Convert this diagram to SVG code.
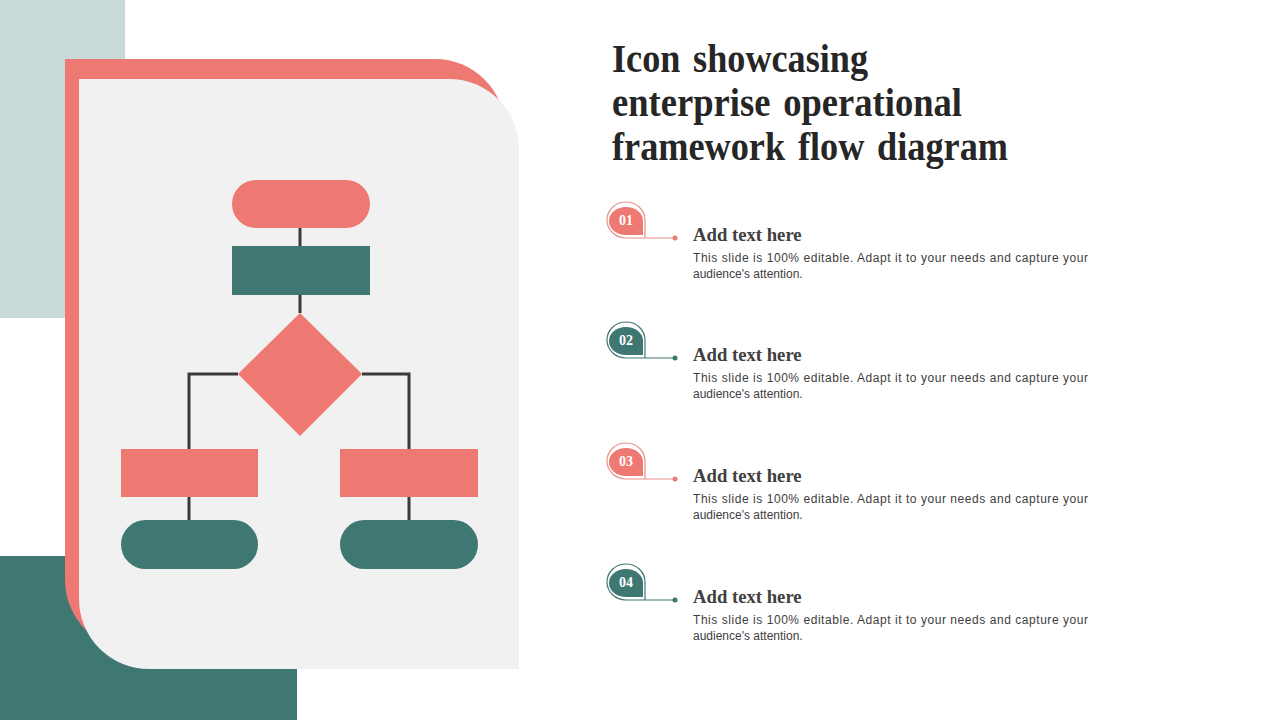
<svg xmlns="http://www.w3.org/2000/svg" width="1280" height="720" viewBox="0 0 1280 720">
<style>
.coral{fill:#EE7872}
.teal{fill:#3F7872}
.conn{fill:none;stroke:#3A3A3A;stroke-width:3}
.title{font-family:"Liberation Serif",serif;font-weight:bold;font-size:39px;fill:#262626;word-spacing:4px}
.head{font-family:"Liberation Serif",serif;font-weight:bold;font-size:18.7px;fill:#404040}
.body{font-family:"Liberation Sans",Arial,sans-serif;font-size:12px;fill:#404040}
.num{font-family:"Liberation Serif",serif;font-weight:bold;font-size:14px;fill:#fff;text-anchor:middle}
.ringC{fill:none;stroke:#E8908A;stroke-width:1.2}
.ringT{fill:none;stroke:#3F7872;stroke-width:1.2}
</style>
<rect width="1280" height="720" fill="#fff"/>
<g id="background">
<rect x="0" y="0" width="125" height="318" fill="#C9D9D9"/>
<rect x="0" y="556" width="297" height="164" class="teal"/>
<path d="M65,59 H435 A70,70 0 0 1 505,129 V650 H135 A70,70 0 0 1 65,580 Z" class="coral"/>
<path d="M79,79 H449 A70,70 0 0 1 519,149 V669 H149 A70,70 0 0 1 79,599 Z" fill="#F1F1F1"/>
</g>
<g id="connectors">
<line x1="300" y1="228" x2="300" y2="246" class="conn"/>
<line x1="300" y1="295" x2="300" y2="313" class="conn"/>
<polyline points="238,374 189,374 189,449" class="conn"/>
<polyline points="362,374 409,374 409,449" class="conn"/>
<line x1="189" y1="497" x2="189" y2="520" class="conn"/>
<line x1="409" y1="497" x2="409" y2="520" class="conn"/>
</g>
<g id="start"><rect x="232" y="180" width="138" height="48" rx="24" class="coral"/></g>
<g id="process"><rect x="232" y="246" width="138" height="49" class="teal"/></g>
<g id="decision"><polygon points="300,313 362,374 300,436 238,374" class="coral"/></g>
<g id="left-step"><rect x="121" y="449" width="137" height="48" class="coral"/></g>
<g id="right-step"><rect x="340" y="449" width="138" height="48" class="coral"/></g>
<g id="left-end"><rect x="121" y="520" width="137" height="49" rx="24.5" class="teal"/></g>
<g id="right-end"><rect x="340" y="520" width="138" height="49" rx="24.5" class="teal"/></g>
<g id="title">
<text class="title" x="612" y="72" textLength="256" lengthAdjust="spacingAndGlyphs">Icon showcasing</text>
<text class="title" x="612" y="116" textLength="350" lengthAdjust="spacingAndGlyphs">enterprise operational</text>
<text class="title" x="612" y="160" textLength="396" lengthAdjust="spacingAndGlyphs">framework flow diagram</text>
</g>
<g id="item1">
<path d="M675,238 H626 A19,18 0 0 1 607,220 A19,18 0 0 1 626,202 A19,18 0 0 1 645,220 V238" class="ringC"/>
<circle cx="675" cy="238" r="2.5" class="coral"/>
<path d="M643,235 H626 A17,14 0 0 1 609,221 A17,14 0 0 1 626,207 A17,14 0 0 1 643,221 Z" class="coral"/>
<text class="num" x="626" y="225">01</text>
<text class="head" x="693" y="241">Add text here</text>
<text class="body" x="693" y="262" textLength="395" lengthAdjust="spacing">This slide is 100% editable. Adapt it to your needs and capture your</text>
<text class="body" x="693" y="278">audience's attention.</text>
</g>
<g id="item2" transform="translate(0,120)">
<path d="M675,238 H626 A19,18 0 0 1 607,220 A19,18 0 0 1 626,202 A19,18 0 0 1 645,220 V238" class="ringT"/>
<circle cx="675" cy="238" r="2.5" class="teal"/>
<path d="M643,235 H626 A17,14 0 0 1 609,221 A17,14 0 0 1 626,207 A17,14 0 0 1 643,221 Z" class="teal"/>
<text class="num" x="626" y="225">02</text>
<text class="head" x="693" y="241">Add text here</text>
<text class="body" x="693" y="262" textLength="395" lengthAdjust="spacing">This slide is 100% editable. Adapt it to your needs and capture your</text>
<text class="body" x="693" y="278">audience's attention.</text>
</g>
<g id="item3" transform="translate(0,241)">
<path d="M675,238 H626 A19,18 0 0 1 607,220 A19,18 0 0 1 626,202 A19,18 0 0 1 645,220 V238" class="ringC"/>
<circle cx="675" cy="238" r="2.5" class="coral"/>
<path d="M643,235 H626 A17,14 0 0 1 609,221 A17,14 0 0 1 626,207 A17,14 0 0 1 643,221 Z" class="coral"/>
<text class="num" x="626" y="225">03</text>
<text class="head" x="693" y="241">Add text here</text>
<text class="body" x="693" y="262" textLength="395" lengthAdjust="spacing">This slide is 100% editable. Adapt it to your needs and capture your</text>
<text class="body" x="693" y="278">audience's attention.</text>
</g>
<g id="item4" transform="translate(0,362)">
<path d="M675,238 H626 A19,18 0 0 1 607,220 A19,18 0 0 1 626,202 A19,18 0 0 1 645,220 V238" class="ringT"/>
<circle cx="675" cy="238" r="2.5" class="teal"/>
<path d="M643,235 H626 A17,14 0 0 1 609,221 A17,14 0 0 1 626,207 A17,14 0 0 1 643,221 Z" class="teal"/>
<text class="num" x="626" y="225">04</text>
<text class="head" x="693" y="241">Add text here</text>
<text class="body" x="693" y="262" textLength="395" lengthAdjust="spacing">This slide is 100% editable. Adapt it to your needs and capture your</text>
<text class="body" x="693" y="278">audience's attention.</text>
</g>
</svg>
